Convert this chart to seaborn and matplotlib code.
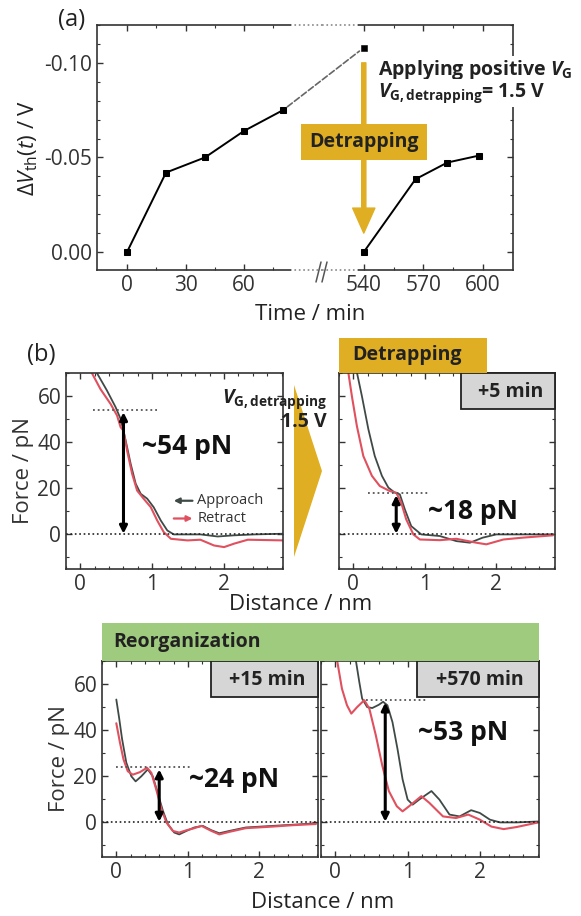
import matplotlib.pyplot as plt
import seaborn as sns
from matplotlib.patches import Rectangle, Polygon, ConnectionPatch
from matplotlib.lines import Line2D
from matplotlib.ticker import MultipleLocator, FixedLocator

sns.set_style('ticks')
plt.rcParams['font.family'] = ['Open Sans', 'DejaVu Sans']
plt.rcParams['mathtext.fontset'] = 'custom'
plt.rcParams['mathtext.rm'] = 'Open Sans'
plt.rcParams['mathtext.it'] = 'Open Sans:italic'
plt.rcParams['mathtext.bf'] = 'Open Sans:bold'
plt.rcParams['mathtext.bfit'] = 'Open Sans:italic:bold'
plt.rcParams['axes.unicode_minus'] = False
plt.rcParams['axes.edgecolor'] = '#333333'
plt.rcParams['xtick.color'] = '#333333'
plt.rcParams['ytick.color'] = '#333333'
plt.rcParams['text.color'] = '#222222'
plt.rcParams['axes.labelcolor'] = '#333333'

# ---- (a) threshold voltage shift vs time ----
t_before = [0, 20, 40, 60, 80]
dv_before = [0.0, -0.042, -0.050, -0.064, -0.075]
t_stress_end = 540
dv_stress_end = -0.108
t_after = [540, 566, 582, 598]
dv_after = [0.0, -0.0385, -0.0473, -0.051]
a_ticks_left = [0, 30, 60]
a_ticks_right = [540, 570, 600]
a_yticks = [0.0, -0.05, -0.10]
a_ytick_labels = ['0.00', '-0.05', '-0.10']

# ---- (b) force-distance curves ----
# detrapping, before (top left)
tl_app_x = [0.23, 0.37, 0.49, 0.56, 0.63, 0.70, 0.77, 0.84, 0.93, 1.02, 1.12, 1.21, 1.30, 1.67, 1.91, 2.14, 2.42, 2.83]
tl_app_y = [70, 62.4, 55.2, 50.1, 40.8, 30.6, 22, 17.6, 15.5, 11.8, 6, 1.7, 0, 0, -0.9, -0.4, 0, 0.3]
tl_ret_x = [0.16, 0.28, 0.42, 0.51, 0.56, 0.60, 0.65, 0.72, 0.79, 0.88, 0.98, 1.07, 1.16, 1.26, 1.49, 1.67, 1.86, 2.0, 2.14, 2.33, 2.83]
tl_ret_y = [70, 63, 56.6, 51.6, 46.5, 45, 36.4, 26.3, 19, 15.5, 11.8, 6, 1, -1.9, -2.6, -2.3, -4.8, -5.5, -4, -2.3, -2.6]
# detrapping, +5 min (top right)
tr_app_x = [0.05, 0.12, 0.21, 0.30, 0.40, 0.49, 0.58, 0.65, 0.72, 0.81, 0.95, 1.21, 1.44, 1.63, 1.81, 2.0, 2.8]
tr_app_y = [70.3, 60, 45.7, 34, 25.4, 20.3, 18.1, 17.4, 10.9, 3.6, 0, -0.7, -2.9, -3.6, -1.4, 0, 0]
tr_ret_x = [-0.07, -0.02, 0.05, 0.14, 0.26, 0.37, 0.51, 0.60, 0.67, 0.74, 0.84, 0.93, 1.21, 1.44, 1.72, 1.86, 2.1, 2.37, 2.79]
tr_ret_y = [70.3, 60, 47, 34, 25.4, 21, 18.8, 18.1, 13.8, 6.5, 0, -2.2, -2.5, -1.9, -3.6, -4.3, -2.2, -1.4, -0.4]
# reorganization, +15 min (bottom left)
bl_app_x = [0, 0.04, 0.08, 0.14, 0.21, 0.27, 0.35, 0.44, 0.51, 0.58, 0.65, 0.72, 0.81, 0.88, 0.98, 1.09, 1.21, 1.33, 1.44, 1.58, 1.81, 2.19, 2.47, 2.79]
bl_app_y = [53.3, 45.2, 36.3, 25.9, 20, 17.8, 20, 23, 20, 12.6, 5.2, -0.7, -4.4, -5.2, -3.7, -2.2, -1.5, -3.4, -4.7, -3.7, -2.2, -1.5, -1, -0.4]
bl_ret_x = [0, 0.05, 0.10, 0.16, 0.23, 0.33, 0.43, 0.49, 0.56, 0.63, 0.70, 0.79, 0.88, 0.98, 1.07, 1.19, 1.33, 1.44, 1.58, 1.81, 2.19, 2.47, 2.79]
bl_ret_y = [43, 34.8, 27.4, 22.2, 20.7, 21.8, 23.7, 21.5, 14.1, 5.9, 0, -3.7, -4.4, -3.4, -2.7, -1.5, -3.7, -5.2, -4.1, -2.5, -1.8, -1.2, -0.7]
# reorganization, +570 min (bottom right)
br_app_x = [0.28, 0.33, 0.37, 0.44, 0.51, 0.60, 0.66, 0.72, 0.79, 0.86, 0.93, 1.0, 1.07, 1.16, 1.33, 1.44, 1.58, 1.72, 1.88, 2.0, 2.14, 2.28, 2.51, 2.81]
br_app_y = [70.8, 61, 53.7, 50, 49.6, 51, 52.3, 50.8, 43.5, 31.8, 18.7, 9.9, 7.7, 9.9, 13.6, 9.9, 3.4, 2.6, 5.3, 4.1, 1.2, 0, 0, 0.4]
br_ret_x = [0.02, 0.09, 0.16, 0.22, 0.30, 0.40, 0.47, 0.56, 0.65, 0.74, 0.85, 0.93, 1.02, 1.19, 1.30, 1.49, 1.67, 1.84, 2.0, 2.16, 2.33, 2.51, 2.81]
br_ret_y = [70.8, 58, 50.8, 47.2, 50, 53, 49.3, 37.7, 24.5, 13.6, 7, 4.8, 7, 11.4, 8.5, 2.6, 1.9, 3.4, 1.2, -1.8, -2.9, -2, 0]

rupture_force = [54, 18, 24, 53]
rupture_x = [0.6, 0.6, 0.6, 0.69]
guide_span = [(0.18, 1.07), (0.2, 1.07), (0.0, 1.05), (0.42, 1.28)]
force_labels = ['~54 pN', '~18 pN', '~24 pN', '~53 pN']
force_label_pos = [(1.49, 38), (1.67, 10), (1.65, 18.5), (1.77, 39)]
time_tags = [None, '+5 min', '+15 min', '+570 min']

APP = '#3f4a47'
RET = '#e0505e'
GOLD = '#E0AE22'
GREEN = '#9FCB7F'
GREY_BOX = '#D6D6D6'

W, H = 581, 916


def px_box(x0, y0, x1, y1):
    return [x0 / W, 1 - y1 / H, (x1 - x0) / W, (y1 - y0) / H]


fig = plt.figure(figsize=(W / 100, H / 100), dpi=100)

# ---------------- panel (a): broken time axis ----------------
ax_l = fig.add_axes(px_box(97, 25, 322, 270))
ax_r = fig.add_axes(px_box(322, 25, 513, 270))

sns.lineplot(x=t_before, y=dv_before, ax=ax_l, color='black', marker='s',
             markersize=5, markeredgecolor='black', lw=1.4, estimator=None, sort=False)
sns.lineplot(x=t_after, y=dv_after, ax=ax_r, color='black', marker='s',
             markersize=5, markeredgecolor='black', lw=1.4, estimator=None, sort=False)
sns.scatterplot(x=[t_stress_end], y=[dv_stress_end], ax=ax_r, color='black',
                marker='s', s=25, edgecolor='black')

for ax in (ax_l, ax_r):
    ax.set_ylim(0.0095, -0.12)
    ax.yaxis.set_major_locator(FixedLocator(a_yticks))
    ax.yaxis.set_minor_locator(MultipleLocator(0.01))
    ax.tick_params(which='both', direction='in', top=True, labelsize=15)
    ax.tick_params(which='major', length=4, width=1)
    ax.tick_params(which='minor', length=2.5, width=0.8)
    for s in ax.spines.values():
        s.set_linewidth(1.2)

ax_l.set_xlim(-15.4, 100)
ax_l.xaxis.set_major_locator(FixedLocator(a_ticks_left))
ax_l.xaxis.set_minor_locator(FixedLocator([15, 45, 75]))
ax_l.set_yticklabels(a_ytick_labels)
ax_l.spines['right'].set_visible(False)
ax_l.tick_params(right=False)
ax_l.spines['top'].set_bounds(-15.4, 83.6)
ax_l.spines['bottom'].set_bounds(-15.4, 83.6)

ax_r.set_xlim(519, 615)
ax_r.xaxis.set_major_locator(FixedLocator(a_ticks_right))
ax_r.xaxis.set_minor_locator(FixedLocator([555, 585]))
ax_r.spines['left'].set_visible(False)
ax_r.tick_params(which='both', left=False, labelleft=False, right=True)
ax_r.spines['top'].set_bounds(537.5, 615)
ax_r.spines['bottom'].set_bounds(537.5, 615)

for ax, (a, b) in ((ax_l, (83.6, 100)), (ax_r, (519, 537.5))):
    tr = ax.get_xaxis_transform()
    for yy in (0, 1):
        ax.plot([a, b], [yy, yy], transform=tr, ls=':', color='#888888', lw=1.2, clip_on=False)
    ax.set_xlabel('')
    ax.set_ylabel('')

# break marks
for dx in (0, 6):
    fig.add_artist(Line2D([(316 + dx) / W, (321 + dx) / W], [1 - 282 / H, 1 - 262 / H],
                          color='#555555', lw=1.1))

# dashed link across the break
con = ConnectionPatch(xyA=(t_before[-1], dv_before[-1]), coordsA='data', axesA=ax_l,
                      xyB=(t_stress_end, dv_stress_end), coordsB='data', axesB=ax_r,
                      ls='--', color='#666666', lw=1.2, shrinkA=4, shrinkB=4)
fig.add_artist(con)

# detrapping arrow
ax_r.annotate('', xy=(t_stress_end, -0.010), xytext=(t_stress_end, -0.100),
              arrowprops=dict(arrowstyle='simple,head_width=0.8,head_length=0.9,tail_width=0.15',
                              mutation_scale=20, color=GOLD, shrinkA=0, shrinkB=0),
              annotation_clip=False)
ax_r.text(t_stress_end, -0.058, 'Detrapping', ha='center', va='center', fontsize=14,
          fontweight='bold', color='#222222', clip_on=False, zorder=5,
          bbox=dict(boxstyle='square,pad=0.42', fc=GOLD, ec='none'))

fig.text(378 / W, 1 - 70 / H, r'Applying positive $\mathbfit{V}_{\mathbf{G}}$', ha='left',
         va='center', fontsize=14, fontweight='bold',
         bbox=dict(boxstyle='square,pad=0.1', fc='white', ec='none'))
fig.text(378 / W, 1 - 93 / H, r'$\mathbfit{V}_{\mathbf{G,detrapping}}$= 1.5 V', ha='left',
         va='center', fontsize=14, fontweight='bold',
         bbox=dict(boxstyle='square,pad=0.1', fc='white', ec='none'))

fig.text(72 / W, 1 - 20 / H, '(a)', ha='center', va='center', fontsize=17)
fig.text(310 / W, 1 - 315 / H, 'Time / min', ha='center', va='center', fontsize=16)
fig.text(28 / W, 1 - 148 / H, r'$\Delta V_{\mathrm{th}}(t)$ / V', ha='center', va='center',
         rotation=90, fontsize=16)

# ---------------- panel (b): force curves ----------------
boxes = [px_box(66, 373, 283, 569), px_box(339, 373, 555, 569),
         px_box(102, 661, 318, 857), px_box(321, 661, 539, 857)]
curves = [(tl_app_x, tl_app_y, tl_ret_x, tl_ret_y),
          (tr_app_x, tr_app_y, tr_ret_x, tr_ret_y),
          (bl_app_x, bl_app_y, bl_ret_x, bl_ret_y),
          (br_app_x, br_app_y, br_ret_x, br_ret_y)]
axes_b = []
for i, (box, (ax_, ay_, rx_, ry_)) in enumerate(zip(boxes, curves)):
    ax = fig.add_axes(box)
    axes_b.append(ax)
    sns.lineplot(x=ax_, y=ay_, ax=ax, color=APP, lw=1.3, estimator=None, sort=False)
    sns.lineplot(x=rx_, y=ry_, ax=ax, color=RET, lw=1.5, estimator=None, sort=False)
    for ln in ax.get_lines():
        ln.set_solid_joinstyle('round')
    ax.set_xlim(-0.2, 2.82)
    ax.set_ylim(-15, 70)
    ax.xaxis.set_major_locator(MultipleLocator(1))
    ax.xaxis.set_minor_locator(MultipleLocator(0.2))
    ax.yaxis.set_major_locator(MultipleLocator(20))
    ax.yaxis.set_minor_locator(MultipleLocator(10))
    ax.tick_params(which='both', direction='in', top=True, right=True, labelsize=15)
    ax.tick_params(which='major', length=4, width=1)
    ax.tick_params(which='minor', length=2.5, width=0.8)
    for s in ax.spines.values():
        s.set_linewidth(1.2)
    ax.set_xlabel('')
    if i in (0, 2):
        ax.set_ylabel('Force / pN', fontsize=16, labelpad=2)
    else:
        ax.set_ylabel('')
        ax.tick_params(labelleft=False)
    ax.axhline(0, ls=':', color='#222222', lw=1.2)
    x0, x1 = guide_span[i]
    f = rupture_force[i]
    ax.plot([x0, x1], [f, f], ls=':', color='#555555', lw=1.3)
    ax.annotate('', xy=(rupture_x[i], f - 1), xytext=(rupture_x[i], 0.3),
                arrowprops=dict(arrowstyle='<|-|>', color='black', lw=2.2,
                                mutation_scale=11, shrinkA=0, shrinkB=0))
    ax.text(*force_label_pos[i], force_labels[i], ha='center', va='center',
            fontsize=19, fontweight='bold', color='#111111')
    if time_tags[i]:
        left = {1: 0.565, 2: 0.505, 3: 0.44}[i]
        ax.add_patch(Rectangle((left, 0.815), 1 - left, 0.185, transform=ax.transAxes,
                               fc=GREY_BOX, ec='#222222', lw=1.3, clip_on=False, zorder=4))
        ax.text((left + 1) / 2 + 0.01, 0.905, time_tags[i], transform=ax.transAxes,
                ha='center', va='center', fontsize=14, fontweight='bold', zorder=5)

# legend drawn as arrows, like the original
ax0 = axes_b[0]
ax0.annotate('', xy=(1.30, 14.6), xytext=(1.56, 14.6),
             arrowprops=dict(arrowstyle='-|>', color=APP, lw=1.6, mutation_scale=8, shrinkA=0, shrinkB=0))
ax0.annotate('', xy=(1.56, 6.9), xytext=(1.30, 6.9),
             arrowprops=dict(arrowstyle='-|>', color=RET, lw=1.6, mutation_scale=8, shrinkA=0, shrinkB=0))
ax0.text(1.63, 14.6, 'Approach', ha='left', va='center', fontsize=10.5, color='#333333')
ax0.text(1.63, 6.9, 'Retract', ha='left', va='center', fontsize=10.5, color='#333333')

# category banners
fig.add_artist(Rectangle((339 / W, 1 - 373 / H), 148 / W, 35 / H, transform=fig.transFigure,
                         fc=GOLD, ec='none'))
fig.text(352 / W, 1 - 355 / H, 'Detrapping', ha='left', va='center', fontsize=14, fontweight='bold')
fig.add_artist(Rectangle((102 / W, 1 - 661 / H), 437 / W, 38 / H, transform=fig.transFigure,
                         fc=GREEN, ec='none'))
fig.text(113 / W, 1 - 642 / H, 'Reorganization', ha='left', va='center', fontsize=14, fontweight='bold')

# big chevron between the top panels
fig.add_artist(Polygon([(294 / W, 1 - 385 / H), (322 / W, 1 - 471 / H), (294 / W, 1 - 557 / H)],
                       closed=True, transform=fig.transFigure, fc=GOLD, ec='none'))
fig.text(327 / W, 1 - 399 / H, r'$\mathbfit{V}_{\mathbf{G,detrapping}}$', ha='right', va='center',
         fontsize=14, fontweight='bold')
fig.text(327 / W, 1 - 422 / H, '1.5 V', ha='right', va='center', fontsize=14, fontweight='bold')

fig.text(41 / W, 1 - 355 / H, '(b)', ha='center', va='center', fontsize=17)
fig.text(301 / W, 1 - 605 / H, 'Distance / nm', ha='center', va='center', fontsize=16)
fig.text(323 / W, 1 - 903 / H, 'Distance / nm', ha='center', va='center', fontsize=16)

plt.savefig('out.png', dpi=100)
